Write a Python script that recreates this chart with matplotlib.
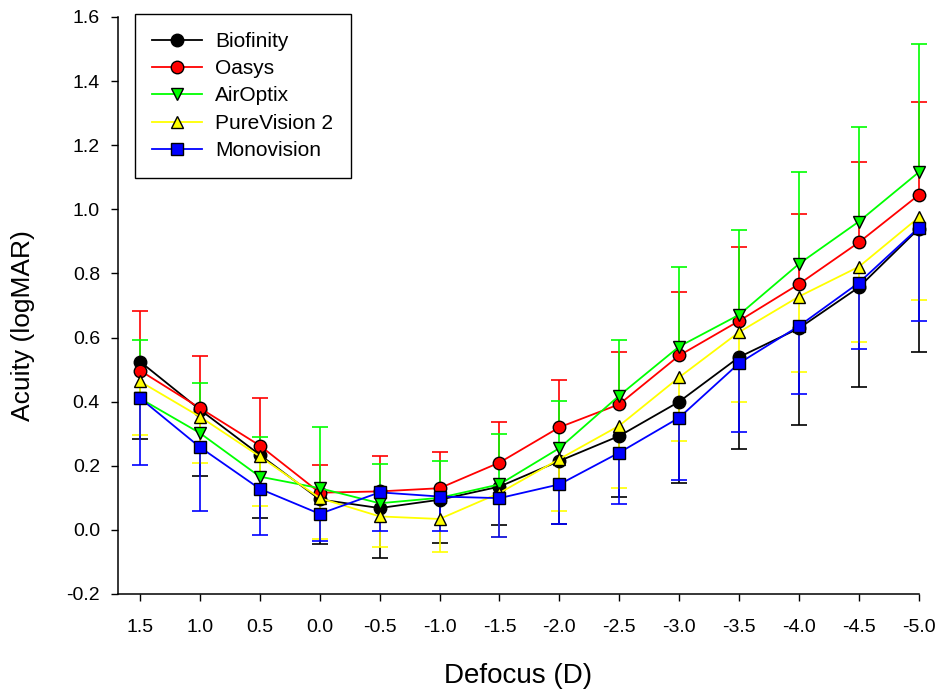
import numpy as np
import matplotlib
matplotlib.use("Agg")
import matplotlib.pyplot as plt

#%% data

defocus = [1.5, 1.0, 0.5, 0.0, -0.5, -1.0, -1.5, -2.0, -2.5, -3.0, -3.5, -4.0, -4.5, -5.0]

biofinity = [0.525, 0.375, 0.234, 0.095, 0.068, 0.094, 0.135, 0.215, 0.293, 0.400, 0.539, 0.629, 0.757, 0.940]
biofinity_low = [0.283, 0.169, 0.038, -0.045, -0.088, -0.040, 0.016, 0.019, 0.102, 0.146, 0.252, 0.327, 0.447, 0.556]

oasys = [0.497, 0.380, 0.263, 0.116, 0.120, 0.130, 0.210, 0.320, 0.392, 0.544, 0.652, 0.767, 0.897, 1.045]
oasys_high = [0.683, 0.541, 0.410, 0.203, 0.232, 0.244, 0.338, 0.468, 0.556, 0.743, 0.884, 0.985, 1.147, 1.334]

airoptix = [0.410, 0.302, 0.166, 0.130, 0.083, 0.100, 0.142, 0.255, 0.419, 0.572, 0.671, 0.830, 0.962, 1.116]
airoptix_high = [0.593, 0.459, 0.291, 0.321, 0.205, 0.216, 0.298, 0.402, 0.593, 0.821, 0.936, 1.118, 1.258, 1.515]

purevision = [0.463, 0.353, 0.229, 0.099, 0.042, 0.034, 0.115, 0.221, 0.325, 0.476, 0.617, 0.728, 0.821, 0.975]
purevision_low = [0.296, 0.210, 0.075, -0.030, -0.054, -0.068, -0.021, 0.059, 0.132, 0.278, 0.398, 0.491, 0.585, 0.717]

monovision = [0.411, 0.258, 0.128, 0.050, 0.117, 0.104, 0.099, 0.142, 0.241, 0.350, 0.520, 0.636, 0.771, 0.943]
monovision_low = [0.203, 0.059, -0.016, -0.035, -0.002, -0.002, -0.021, 0.019, 0.080, 0.156, 0.304, 0.423, 0.564, 0.652]

x_ticks = [1.5, 1.0, 0.5, 0.0, -0.5, -1.0, -1.5, -2.0, -2.5, -3.0, -3.5, -4.0, -4.5, -5.0]
y_ticks = [-0.2, 0.0, 0.2, 0.4, 0.6, 0.8, 1.0, 1.2, 1.4, 1.6]

#%% style

plt.rcParams['font.family'] = ['Liberation Sans', 'DejaVu Sans']
plt.rcParams['axes.unicode_minus'] = False

# (label, values, error end, colour, marker)
series = [
    ("Biofinity", biofinity, biofinity_low, "black", "o"),
    ("Oasys", oasys, oasys_high, "red", "o"),
    ("AirOptix", airoptix, airoptix_high, "#00ff00", "v"),
    ("PureVision 2", purevision, purevision_low, "#ffff00", "^"),
    ("Monovision", monovision, monovision_low, "blue", "s"),
]

fig = plt.figure(figsize=(9.40, 6.91), dpi=100)
ax = fig.add_axes([0.1255, 0.1404, 0.852, 0.835])

x = np.array(defocus)
for label, vals, ends, col, mk in series:
    vals = np.array(vals)
    ends = np.array(ends)
    # one-sided error bars: stem + cap at the far end
    ax.vlines(x, vals, ends, color=col, lw=1.2, zorder=2, clip_on=False)
    ax.plot(x, ends, ls="none", marker="_", ms=11.5, mew=1.2, color=col,
            zorder=2, clip_on=False)
    ax.plot(x, vals, "-", color=col, lw=1.3, marker=mk, ms=9 if mk != "s" else 8.5,
            mfc=col, mec="black", mew=1.0, label=label, zorder=3, clip_on=False)

ax.set_xlim(1.684, -5.0)
ax.set_ylim(-0.2, 1.6)
ax.set_xticks(x_ticks)
ax.set_xticklabels([f"{t:.1f}" for t in x_ticks])
ax.set_yticks(y_ticks)
ax.set_yticklabels([f"{t:.1f}" for t in y_ticks])

for s in ["top", "right"]:
    ax.spines[s].set_visible(False)
for s in ["left", "bottom"]:
    ax.spines[s].set_linewidth(1.1)
ax.tick_params(direction="out", length=5, width=1.0, labelsize=14, pad=8)
ax.tick_params(axis="x", pad=13)

ax.set_xlabel("Defocus (D)", fontsize=20)
ax.xaxis.set_label_coords(0.5, -0.12)
ax.set_ylabel("Acuity (logMAR)", fontsize=19)
ax.yaxis.set_label_coords(-0.103, 0.466)

leg = ax.legend(loc="upper left", bbox_to_anchor=(0.021, 1.005), borderaxespad=0,
                fontsize=15, handlelength=2.4, handletextpad=0.6, labelspacing=0.4,
                borderpad=0.85, fancybox=False, framealpha=1, edgecolor="black")
leg.get_frame().set_linewidth(1.0)

fig.savefig("out.png", dpi=100)
